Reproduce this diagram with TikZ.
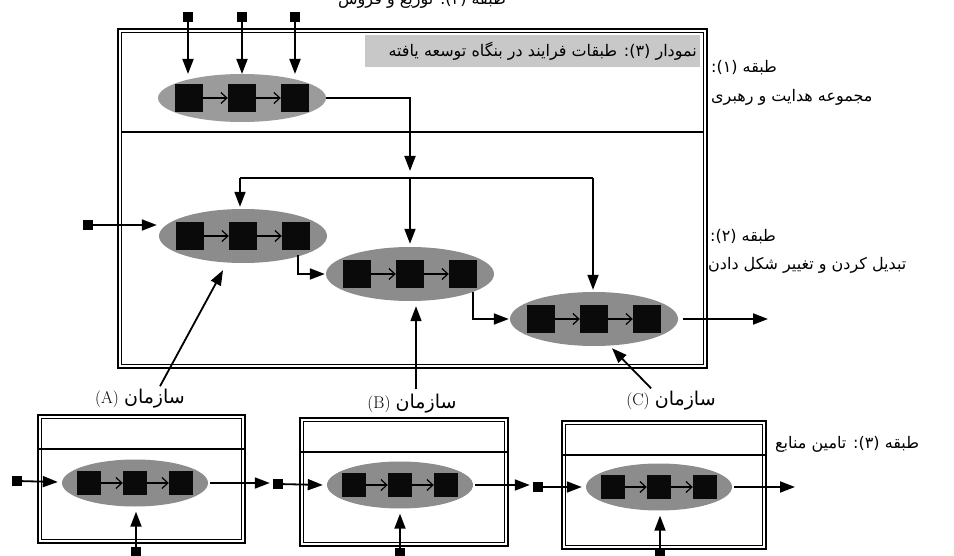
\documentclass[tikz,border=0pt]{standalone}
\usepackage{fontspec}
\usetikzlibrary{shapes.geometric,arrows.meta,calc}
\TeXXeTstate=1
\newfontfamily\arabicfont[Script=Arabic]{DejaVu Sans}
\newcommand\orgarfont{\arabicfont\fontsize{19}{21}\selectfont}
\definecolor{ellgray}{RGB}{140,140,140}
\definecolor{ellgraytop}{RGB}{155,155,155}
\definecolor{sqblack}{RGB}{10,10,10}
\definecolor{capgray}{RGB}{200,200,200}
\newcommand\ProcEll[7]{%
  \node[procell, fill=#7, minimum width=#3pt, minimum height=#4pt] (#1) at #2 {};
  \node[sqr, minimum size=#5pt] (#1b) at (#1.center) {};
  \node[sqr, minimum size=#5pt] (#1a) at ($(#1.center)+(-#6,0)$) {};
  \node[sqr, minimum size=#5pt] (#1c) at ($(#1.center)+(#6,0)$) {};
  \draw[thinarr] (#1a.east) -- (#1b.west);
  \draw[thinarr] (#1b.east) -- (#1c.west);
}
\begin{document}
\begin{tikzpicture}[x=1pt,y=-1pt,
  conn/.style={line width=1.8pt,-{Triangle[length=15pt,width=11pt]}},
  plain/.style={line width=1.8pt},
  sqr/.style={fill=sqblack,draw=none,inner sep=0pt},
  dot/.style={fill=black,draw=none,inner sep=0pt,minimum size=10pt},
  procell/.style={ellipse,draw=none,inner sep=0pt},
  thinarr/.style={line width=1.2pt,-{Straight Barb[length=6pt,width=11pt]}},
  outerln/.style={line width=1.6pt},
  innerln/.style={line width=0.8pt},
  divln/.style={line width=1.2pt},
  lbl/.style={font=\arabicfont\fontsize{16}{18}\selectfont,inner sep=0pt},
  org/.style={inner sep=0pt,font=\fontsize{17}{19}\selectfont}]
\useasboundingbox (0,0) rectangle (954,556);
\fill[white] (0,0) rectangle (954,556);

% ---- main box (layers 1 and 2)
\draw[outerln] (118,29) rectangle (707,368);
\draw[innerln] (121.5,32.5) rectangle (703.5,364.5);
\draw[divln] (121.5,132) -- (703.5,132);

% caption
\node[fill=capgray, anchor=north east, minimum width=335pt, minimum height=32pt, inner sep=0pt] (cap) at (700,35) {};
\node[lbl, anchor=east] (captext) at ($(cap.east)+(-3,0)$) {\beginR نمودار (۳): طبقات فرایند در بنگاه توسعه یافته\endR};

% ---- layer 3 boxes
\draw[outerln] (38,415) rectangle (245,543);
\draw[innerln] (41.5,418.5) rectangle (241.5,539.5);
\draw[divln] (38,449) -- (245,449);
\draw[outerln] (300,418) rectangle (508,546);
\draw[innerln] (303.5,421.5) rectangle (504.5,542.5);
\draw[divln] (300,452) -- (508,452);
\draw[outerln] (562,421) rectangle (766,549);
\draw[innerln] (565.5,424.5) rectangle (762.5,545.5);
\draw[divln] (562,455) -- (766,455);

% ---- process ellipses
\ProcEll{e0}{(242,98)}{168}{48}{28}{53}{ellgraytop}
\ProcEll{e1}{(243,236)}{168}{54}{28}{53}{ellgray}
\ProcEll{e2}{(410,274)}{168}{54}{28}{53}{ellgray}
\ProcEll{e3}{(594,319)}{168}{54}{28}{53}{ellgray}
\ProcEll{eA}{(135,483)}{146}{47}{24}{46}{ellgray}
\ProcEll{eB}{(400,485)}{146}{47}{24}{46}{ellgray}
\ProcEll{eC}{(659,487)}{146}{47}{24}{46}{ellgray}

% ---- top inputs
\node[dot] (t1) at (188,17) {};
\node[dot] (t2) at (242,17) {};
\node[dot] (t3) at (295,17) {};
\draw[conn] (t1) -- (188,74);
\draw[conn] (t2) -- (242,74);
\draw[conn] (t3) -- (295,74);

% ---- layer 1 -> layer 2 distribution
\coordinate (hl) at (240,178);
\coordinate (hj) at (410,178);
\coordinate (hr) at (593,178);
\draw[conn] (e0.east) -| ($(hj)+(0,-7)$);
\draw[plain] (hl) -- (hr);
\draw[conn,shorten >=2pt] (hl) -- (hl |- e1.north);
\draw[conn,shorten >=3pt] (hj) -- (hj |- e2.north);
\draw[conn,shorten >=2pt] (hr) -- (hr |- e3.north);

% ---- layer 2 flow
\node[dot] (in1) at (88,225) {};
\draw[conn,shorten >=2pt] (in1) -- (in1 -| e1.west);
\draw[conn] ($(e1c.south)+(2,5)$) |- ($(e2.west)+(-1,0)$);
\draw[conn] ($(e2c.south)+(10,4)$) |- ($(e3.west)+(-1,0)$);
\coordinate (out3) at (768,319);
\draw[conn] ($(e3.east)+(5,0)$) -- (out3);

% ---- organisations
\node[org] (labA) at (140,399) {(A) {\orgarfont\beginR سازمان\endR}};
\node[org] (labB) at (412,404) {(B) {\orgarfont\beginR سازمان\endR}};
\node[org] (labC) at (671,401) {(C) {\orgarfont\beginR سازمان\endR}};
\draw[conn] ($(labA.north)+(20,-3)$) -- ($(e1.south)+(-20,7)$);
\draw[conn] ($(labB.north)+(4,-5)$) -- ($(e2.south)+(6,5)$);
\draw[conn] ($(labC.north)+(-20,-3)$) -- ($(e3.south)+(18,2)$);

% ---- layer 3 flow
\node[dot] (inA) at (17,481) {};
\node[dot] (inB) at (278,484) {};
\node[dot] (inC) at (538,487) {};
\draw[conn] (inA) -- ($(eA.west)+(-4,-1)$);
\draw[conn,shorten >=3pt] ($(eA.east)+(2,0)$) -- (eA.east -| inB.west);
\draw[conn] (inB) -- ($(eB.west)+(-4,0)$);
\draw[conn,shorten >=3pt] ($(eB.east)+(2,0)$) -- (eB.east -| inC.west);
\draw[conn] (inC) -- ($(eC.west)+(-4,0)$);
\coordinate (outC) at (795,487);
\draw[conn] ($(eC.east)+(2,0)$) -- (outC);
\node[dot] (bA) at (136,552) {};
\node[dot] (bB) at (400,553) {};
\node[dot] (bC) at (660,553) {};
\draw[conn] (bA) -- ($(eA.south)+(1,5)$);
\draw[conn] (bB) -- ($(eB.south)+(0,5)$);
\draw[conn] (bC) -- ($(eC.south)+(1,5)$);

% ---- layer labels
\node[lbl, anchor=base west] (L4) at (338,5) {\beginR طبقه (۴): توزیع و فروش\endR};
\node[lbl, anchor=base west] (L1a) at (711,73) {\beginR طبقه (۱):\endR};
\node[lbl, anchor=base west] (L1b) at (711,102) {\beginR مجموعه هدایت و رهبری\endR};
\node[lbl, anchor=base west] (L2a) at (710,242) {\beginR طبقه (۲):\endR};
\node[lbl, anchor=base west] (L2b) at (708,270) {\beginR تبدیل کردن و تغییر شکل دادن\endR};
\node[lbl, anchor=base west] (L3) at (775,448) {\beginR طبقه (۳): تامین منابع\endR};
\end{tikzpicture}
\end{document}
